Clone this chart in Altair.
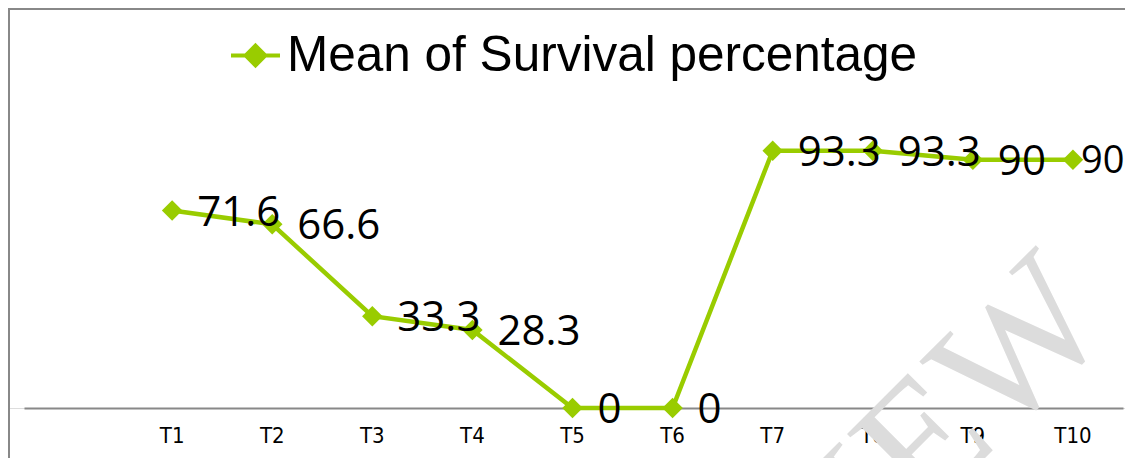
import altair as alt
import pandas as pd

categories = ["T1", "T2", "T3", "T4", "T5", "T6", "T7", "T8", "T9", "T10"]
values = [71.6, 66.6, 33.3, 28.3, 0, 0, 93.3, 93.3, 90, 90]
series_name = "Mean of Survival percentage"

df = pd.DataFrame({"cat": categories, "value": values, "series": [series_name] * len(categories)})

GREEN = "#99CC00"
W, H = 1117, 400

legend = alt.Legend(
    title=None, orient="none", legendX=221, legendY=21, padding=0,
    symbolType="M-1,0H1M0,-0.4L0.4,0L0,0.4L-0.4,0Z", symbolSize=2401,
    symbolFillColor=GREEN, symbolStrokeColor=GREEN, symbolStrokeWidth=4,
    labelFont="Liberation Sans", labelFontSize=49.5, labelColor="black",
    labelLimit=2000, labelOffset=5,
)

x_enc = alt.X(
    "cat:N", sort=categories,
    scale=alt.Scale(type="band", domain=categories, paddingInner=0, paddingOuter=0.49,
                    align=1, range=[16, 1115]),
    axis=alt.Axis(title=None, ticks=False, grid=False, domainColor="#888888", domainWidth=2,
                  labelFont="DejaVu Sans Condensed, Liberation Sans", labelFontSize=22,
                  labelColor="black", labelPadding=17, labelAngle=0),
)
y_enc = alt.Y("value:Q", scale=alt.Scale(domain=[0, 145.05]), axis=None)
color_enc = alt.Color("series:N", scale=alt.Scale(range=[GREEN]), legend=legend)

base = alt.Chart(df).encode(x=x_enc, y=y_enc)

line = base.mark_line(strokeWidth=4.5).encode(color=color_enc)
pts = base.mark_point(shape="diamond", filled=True, size=420, opacity=1).encode(color=color_enc)
text_style = dict(align="left", baseline="middle", dy=2, font="Open Sans", color="black")
labels = base.mark_text(dx=25, fontSize=42, **text_style).encode(
    text=alt.Text("value:Q", format=".1~f")).transform_filter(alt.datum.cat != "T10")
last_label = base.mark_text(dx=8, fontSize=38, **text_style).encode(
    text=alt.Text("value:Q", format=".1~f")).transform_filter(alt.datum.cat == "T10")

deco = alt.Chart(pd.DataFrame({"k": [0]}))
top_border = deco.mark_rule(color="#888888", strokeWidth=2).encode(
    x=alt.value(0), x2=alt.value(W), y=alt.value(1))
left_border = deco.mark_rule(color="#888888", strokeWidth=2).encode(
    x=alt.value(1), y=alt.value(0), y2=alt.value(450))
watermark = deco.mark_text(text="PREVIEW", font="Liberation Serif", fontSize=175,
                           color="#dcdcdc", align="right", baseline="alphabetic",
                           angle=315).encode(x=alt.value(1109), y=alt.value(318))

chart = alt.layer(watermark, top_border, left_border, line, pts, labels, last_label).properties(
    width=W, height=H,
    autosize=alt.AutoSizeParams(type="none"),
    padding={"left": 0, "top": 0, "right": 0, "bottom": 50},
).configure_view(stroke=None).configure(background="white")

chart.save("out.html", embed_options={"renderer": "svg", "actions": False})
